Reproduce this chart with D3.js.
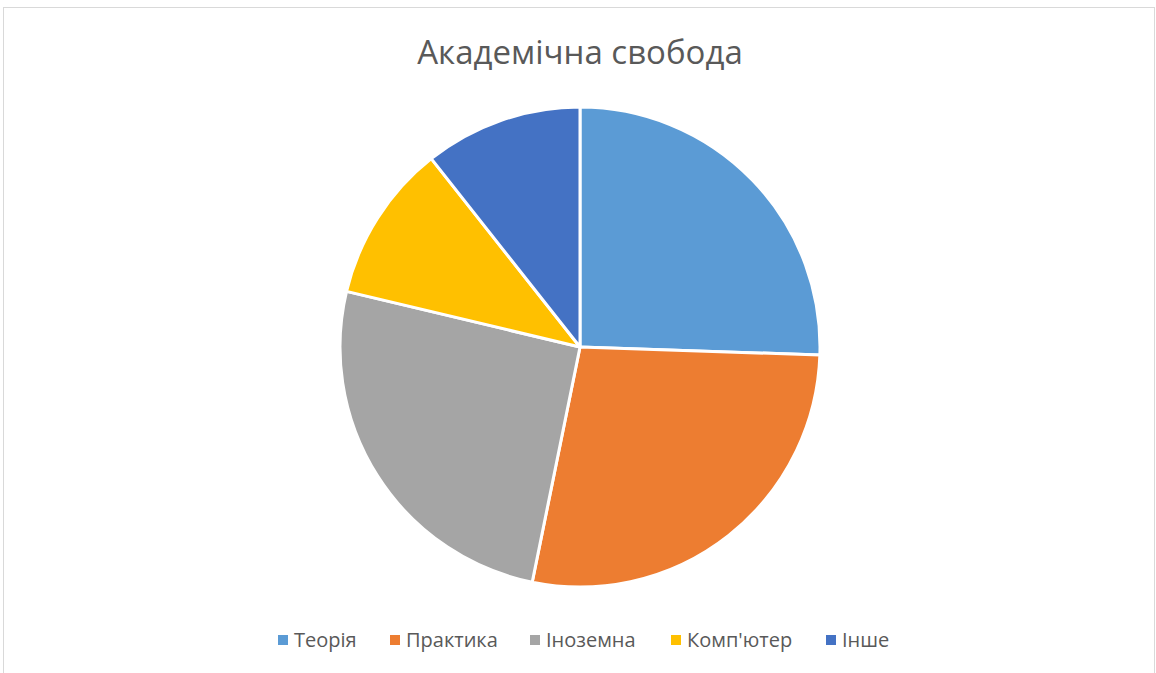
<!DOCTYPE html>
<html>
<head>
<meta charset="utf-8">
<script src="https://cdn.jsdelivr.net/npm/d3@7"></script>
<style>
  body { margin: 0; background: #fff; }
  svg text { font-family: "Open Sans", "DejaVu Sans", sans-serif; fill: #595959; }
</style>
</head>
<body>
<svg id="chart"></svg>
<script>
var categories = ["Теорія", "Практика", "Іноземна", "Комп'ютер", "Інше"];
var values = [24, 26, 24, 10, 10];
var colors = ["#5b9bd5", "#ed7d31", "#a5a5a5", "#ffc000", "#4472c4"];
var title = "Академічна свобода";

var width = 1156, height = 673;
var cx = 580, cy = 347, radius = 240;

var svg = d3.select("#chart")
  .attr("width", width)
  .attr("height", height);

svg.append("rect")
  .attr("x", 3.5).attr("y", 7.5)
  .attr("width", 1151).attr("height", 680)
  .attr("fill", "#fff")
  .attr("stroke", "#d9d9d9")
  .attr("stroke-width", 1);

svg.append("text")
  .attr("x", cx).attr("y", 64)
  .attr("text-anchor", "middle")
  .style("font-size", "33px")
  .text(title);

var data = categories.map(function(c, i) { return { name: c, value: values[i] }; });
var color = d3.scaleOrdinal().domain(categories).range(colors);

var pie = d3.pie().value(function(d) { return d.value; }).sort(null);
var arc = d3.arc().innerRadius(0).outerRadius(radius);

var g = svg.append("g").attr("transform", "translate(" + cx + "," + cy + ")");
g.selectAll("path")
  .data(pie(data))
  .enter()
  .append("path")
  .attr("d", arc)
  .attr("fill", function(d) { return color(d.data.name); })
  .attr("stroke", "white")
  .attr("stroke-width", 3)
  .attr("stroke-linejoin", "round");

// legend
var legendX = [278, 390, 530, 671, 826];
var legend = svg.append("g");
var items = legend.selectAll("g")
  .data(categories)
  .enter()
  .append("g")
  .attr("transform", function(d, i) { return "translate(" + legendX[i] + ",640)"; });
items.append("rect")
  .attr("x", 0).attr("y", -5)
  .attr("width", 10).attr("height", 10)
  .attr("fill", function(d) { return color(d); });
items.append("text")
  .attr("x", 16).attr("y", 0)
  .attr("dy", "0.35em")
  .style("font-size", "20px")
  .text(function(d) { return d; });
</script>
</body>
</html>
